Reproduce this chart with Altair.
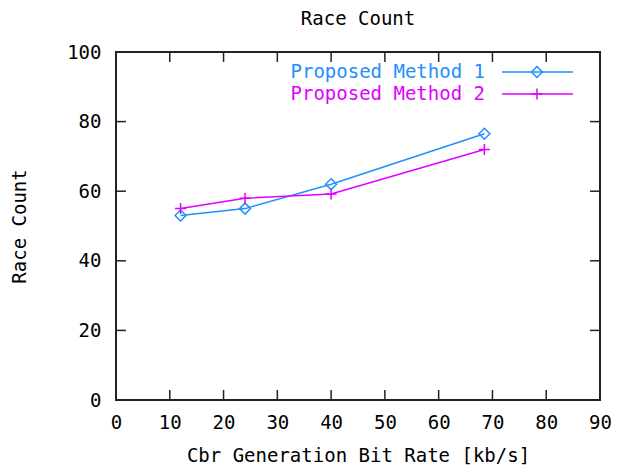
import altair as alt
import pandas as pd

# ---- data ----
rates = [12, 24, 40, 68.5]
method1 = [53, 55, 62, 76.5]
method2 = [55, 58, 59.2, 72]
series_names = ["Proposed Method 1", "Proposed Method 2"]
series_colors = ["#2090ff", "#e000ff"]
x_ticks = [0, 10, 20, 30, 40, 50, 60, 70, 80, 90]
y_ticks = [0, 20, 40, 60, 80, 100]
inner_x_ticks = x_ticks[1:-1]
inner_y_ticks = y_ticks[1:-1]

W, H = 484, 348
FONT = "DejaVu Sans Mono"
FS = 19
TL = 10  # tick length

df = pd.DataFrame({
    "rate": rates * 2,
    "count": method1 + method2,
    "series": [series_names[0]] * len(rates) + [series_names[1]] * len(rates),
})

xs = alt.Scale(domain=[0, 90], nice=False, zero=False)
ys = alt.Scale(domain=[0, 100], nice=False, zero=False)

xaxis = alt.Axis(values=x_ticks, ticks=False, domain=False, grid=False,
                 labelFont=FONT, labelFontSize=FS, labelColor="black",
                 labelPadding=13, title="Cbr Generation Bit Rate [kb/s]",
                 titleFont=FONT, titleFontSize=FS, titleFontWeight="normal",
                 titleColor="black", titleX=W / 2, titleY=55,
                 titleBaseline="middle", labelFlush=False)
yaxis = alt.Axis(values=y_ticks, ticks=False, domain=False, grid=False,
                 labelFont=FONT, labelFontSize=FS, labelColor="black",
                 labelPadding=15, title="Race Count",
                 titleFont=FONT, titleFontSize=FS, titleFontWeight="normal",
                 titleColor="black", titleX=-97, titleY=H / 2,
                 titleBaseline="middle", titleAngle=-90, labelFlush=False)

def X(f):
    return alt.X(f, scale=xs, axis=xaxis)

def Y(f):
    return alt.Y(f, scale=ys, axis=yaxis)

layers = []
shapes = ["diamond", "M-1,0H1M0,-1V1"]
for i, name in enumerate(series_names):
    sub = df[df["series"] == name]
    base = alt.Chart(sub)
    line = base.mark_line(color=series_colors[i], strokeWidth=1.5).encode(
        x=X("rate:Q"), y=Y("count:Q"))
    pts = base.mark_point(shape=shapes[i], filled=False, size=121,
                          color=series_colors[i], strokeWidth=1.5, opacity=1).encode(
        x=X("rate:Q"), y=Y("count:Q"))
    layers += [line, pts]

# inward tick marks on all four sides
xt = alt.Chart(pd.DataFrame({"rate": inner_x_ticks}))
yt = alt.Chart(pd.DataFrame({"count": inner_y_ticks}))
tick_style = dict(color="#222", strokeWidth=1.5)
layers += [
    xt.mark_rule(**tick_style).encode(x=X("rate:Q"), y=alt.value(H), y2=alt.value(H - TL)),
    xt.mark_rule(**tick_style).encode(x=X("rate:Q"), y=alt.value(0), y2=alt.value(TL)),
    yt.mark_rule(**tick_style).encode(y=Y("count:Q"), x=alt.value(0), x2=alt.value(TL)),
    yt.mark_rule(**tick_style).encode(y=Y("count:Q"), x=alt.value(W), x2=alt.value(W - TL)),
]

# gnuplot-style key, inside top right: label then sample
for i, name in enumerate(series_names):
    ky = 20 + 22 * i
    kd = alt.Chart(pd.DataFrame({"s": [name]}))
    layers += [
        kd.mark_text(align="right", baseline="middle", font=FONT, fontSize=FS,
                     color=series_colors[i]).encode(
            text="s:N", x=alt.value(369), y=alt.value(ky)),
        kd.mark_rule(color=series_colors[i], strokeWidth=1.5).encode(
            x=alt.value(386), x2=alt.value(457), y=alt.value(ky)),
        kd.mark_point(shape=shapes[i], filled=False, size=121,
                      color=series_colors[i], strokeWidth=1.5, opacity=1).encode(
            x=alt.value(421), y=alt.value(ky)),
    ]

chart = alt.layer(*layers).properties(
    width=W, height=H,
    background="white",
    title=alt.TitleParams("Race Count", font=FONT, fontSize=FS,
                          fontWeight="normal", color="black",
                          anchor="middle", offset=14),
    autosize=alt.AutoSizeParams(type="none"),
    padding={"left": 116, "top": 52, "right": 22, "bottom": 70},
).configure_view(stroke="#222", strokeWidth=2)

chart.save("out.html", embed_options={"renderer": "svg", "actions": False})
